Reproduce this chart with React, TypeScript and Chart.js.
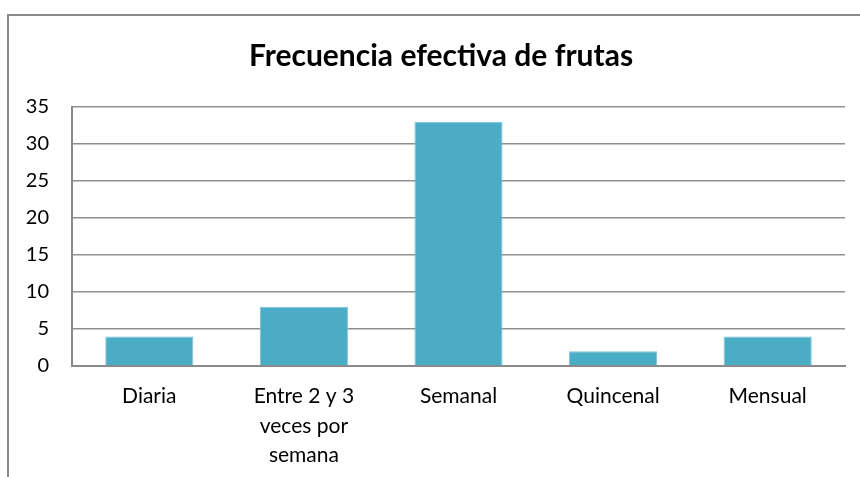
import React, { useEffect, useRef } from "react";
import { Chart, registerables } from "chart.js";

Chart.register(...registerables);

const TITLE = "Frecuencia efectiva de frutas";
const CATEGORIES: (string | string[])[] = [
  "Diaria",
  ["Entre 2 y 3", "veces por", "semana"],
  "Semanal",
  "Quincenal",
  "Mensual",
];
const VALUES = [4, 8, 33, 2, 4];
const Y_MIN = 0;
const Y_MAX = 35;
const Y_STEP = 5;

const framePlugin = {
  id: "frame",
  beforeDraw(chart: any) {
    const ctx = chart.ctx;
    ctx.save();
    ctx.strokeStyle = "#8a8a8a";
    ctx.lineWidth = 2;
    ctx.beginPath();
    ctx.moveTo(8, 477);
    ctx.lineTo(8, 15);
    ctx.lineTo(860, 15);
    ctx.stroke();
    ctx.restore();
  },
};

const titlePlugin = {
  id: "excelTitle",
  afterDraw(chart: any) {
    const ctx = chart.ctx;
    ctx.save();
    ctx.fillStyle = "#000";
    ctx.font = "bold 30px Lato";
    ctx.textAlign = "center";
    ctx.textBaseline = "alphabetic";
    ctx.fillText(TITLE, 441, 66);
    ctx.restore();
  },
};

export default function App() {
  const ref = useRef<HTMLCanvasElement | null>(null);
  useEffect(() => {
    if (!ref.current) return;
    const chart = new Chart(ref.current, {
      type: "bar",
      data: {
        labels: CATEGORIES,
        datasets: [
          {
            data: VALUES,
            backgroundColor: "#4BACC6",
            borderColor: "#7cc3d6",
            borderWidth: 1,
            categoryPercentage: 1,
            barPercentage: 0.57,
          },
        ],
      },
      options: {
        responsive: false,
        animation: false,
        devicePixelRatio: 1,
        layout: { padding: { left: 0, right: 15, top: 107, bottom: 0 } },
        plugins: {
          legend: { display: false },
          tooltip: { enabled: false },
          title: { display: false },
        },
        scales: {
          x: {
            grid: { display: false, drawTicks: false },
            border: { display: true, color: "#8a8a8a", width: 2 },
            ticks: {
              color: "#000",
              font: { family: "Lato", size: 21, lineHeight: 1.4 },
              padding: 16,
              maxRotation: 0,
              autoSkip: false,
            },
            afterFit: (scale: any) => {
              scale.height = 111;
            },
          },
          y: {
            min: Y_MIN,
            max: Y_MAX,
            grid: { color: "#8f8f8f", lineWidth: 1.5, drawTicks: false },
            border: { display: true, color: "#8a8a8a", width: 2 },
            ticks: {
              stepSize: Y_STEP,
              color: "#000",
              font: { family: "Lato", size: 20 },
              padding: 23,
            },
            afterFit: (scale: any) => {
              scale.width = 72;
            },
          },
        },
      },
      plugins: [framePlugin, titlePlugin],
    });
    return () => chart.destroy();
  }, []);
  return (
    <div style={{ position: "absolute", left: 0, top: 0, width: 860, height: 477, background: "#fff" }}>
      <canvas ref={ref} width={860} height={477} style={{ display: "block", width: 860, height: 477 }} />
    </div>
  );
}
